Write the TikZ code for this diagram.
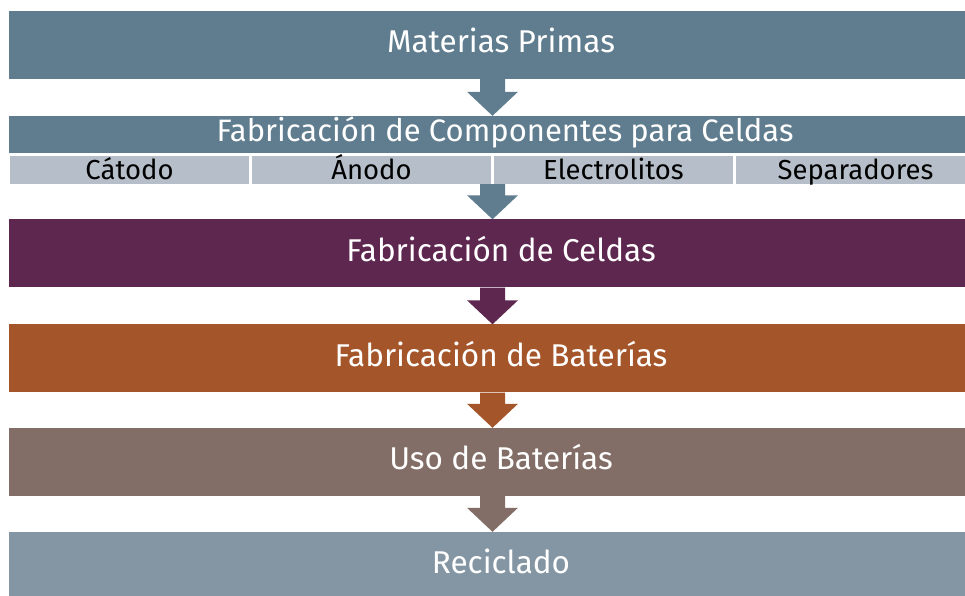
\documentclass[tikz,border=0pt]{standalone}
\usepackage{fontspec}
\setmainfont{Fira Sans}
\usetikzlibrary{calc}

\definecolor{slateblue}{HTML}{607D8F}
\definecolor{lightslate}{HTML}{B6BFC9}
\definecolor{plum}{HTML}{5E2750}
\definecolor{rust}{HTML}{A5552A}
\definecolor{taupe}{HTML}{826E66}
\definecolor{greyblue}{HTML}{8496A3}

% fat arrow from a start point down to the top of a node
\newcommand{\blockarrow}[3]{%
  \fill[#3] ($(#1)+(-12.5,0)$) -- ($(#1)+(12.5,0)$) -- ($(#2)+(12.5,24)$)
    -- ($(#2)+(25.5,24)$) -- (#2) -- ($(#2)+(-25.5,24)$) -- ($(#2)+(-12.5,24)$) -- cycle;}

\begin{document}
\begin{tikzpicture}[x=1pt, y=1pt,
    stage/.style={minimum width=984pt, minimum height=68pt, inner sep=0pt,
      text height=21pt, text depth=5pt, text=white, font=\fontsize{31.5}{36}\selectfont},
    part/.style={fill=lightslate, minimum width=239pt, minimum height=28pt, inner sep=0pt,
      text height=22pt, text depth=2pt, text=black, font=\fontsize{27.5}{30}\selectfont}]
  \useasboundingbox (0,0) rectangle (965,596);
  \clip (0,0) rectangle (965,596);

  % Stages of the chain
  \node[stage, fill=slateblue] (raw) at (501,551) {Materias Primas};
  \node[stage, fill=slateblue, minimum width=992pt, minimum height=37pt, text height=20pt,
    text depth=5pt, font=\fontsize{31}{36}\selectfont] (comp) at (505,461.5) {Fabricación de Componentes para Celdas};
  \node[stage, fill=plum] (cell) at (501,342.5) {Fabricación de Celdas};
  \node[stage, fill=rust] (pack) at (501,237.5) {Fabricación de Baterías};
  \node[stage, fill=taupe] (use) at (501,134) {Uso de Baterías};
  \node[stage, fill=greyblue] (recy) at (501,30) {Reciclado};

  % Components row
  \node[part] (cath) at (129.5,426) {Cátodo};
  \node[part] (anod) at (371.5,426) {Ánodo};
  \node[part] (elec) at (613.5,426) {Electrolitos};
  \node[part] (sepa) at (855.5,426) {Separadores};

  % Arrows between stages, all on one vertical axis
  \coordinate (axis) at (492.5,0);
  \blockarrow{axis |- raw.south}{axis |- comp.north}{slateblue}
  \blockarrow{axis |- cath.south}{axis |- cell.north}{slateblue}
  \blockarrow{axis |- cell.south}{axis |- pack.north}{plum}
  \blockarrow{axis |- pack.south}{axis |- use.north}{rust}
  \blockarrow{axis |- use.south}{axis |- recy.north}{taupe}
\end{tikzpicture}
\end{document}
